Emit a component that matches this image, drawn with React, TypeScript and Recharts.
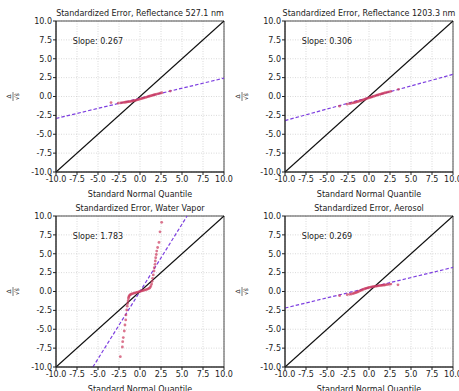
import React from 'react'
import { ScatterChart, Scatter, XAxis, YAxis, CartesianGrid, ReferenceLine, ReferenceArea, ReferenceDot } from 'recharts'

const ticks = [-10, -7.5, -5, -2.5, 0, 2.5, 5, 7.5, 10]

const refl527X = [-3.45, -2.6, -2.3, -2.1, -1.9, -1.75, -1.6, -1.45, -1.3, -1.15, -1.0, -0.85, -0.7, -0.55, -0.4, -0.25, -0.1, 0.05, 0.2, 0.35, 0.5, 0.65, 0.8, 0.95, 1.1, 1.25, 1.4, 1.55, 1.7, 1.85, 2.0, 2.2, 2.4, 2.6, 3.6]
const refl527Y = [-0.8, -0.88, -0.85, -0.82, -0.78, -0.76, -0.73, -0.7, -0.68, -0.65, -0.62, -0.59, -0.55, -0.51, -0.47, -0.42, -0.37, -0.32, -0.27, -0.22, -0.17, -0.12, -0.07, -0.02, 0.03, 0.08, 0.13, 0.18, 0.23, 0.28, 0.32, 0.38, 0.44, 0.5, 0.72]

const refl1203X = [-3.5, -2.6, -2.3, -2.1, -1.9, -1.75, -1.6, -1.45, -1.3, -1.15, -1.0, -0.85, -0.7, -0.55, -0.4, -0.25, -0.1, 0.05, 0.2, 0.35, 0.5, 0.65, 0.8, 0.95, 1.1, 1.25, 1.4, 1.55, 1.7, 1.85, 2.0, 2.2, 2.4, 2.6, 3.5]
const refl1203Y = [-1.28, -1.02, -0.95, -0.9, -0.85, -0.8, -0.76, -0.71, -0.66, -0.61, -0.56, -0.51, -0.45, -0.39, -0.33, -0.27, -0.21, -0.16, -0.1, -0.05, 0.01, 0.06, 0.12, 0.17, 0.22, 0.27, 0.32, 0.37, 0.42, 0.47, 0.52, 0.57, 0.62, 0.68, 0.95]

const vaporX = [-2.34, -2.1, -2.06, -1.99, -1.87, -1.79, -1.7, -1.67, -1.58, -1.52, -1.47, -1.42, -1.38, -1.34, -1.3, -1.22, -1.12, -1.0, -0.85, -0.7, -0.55, -0.4, -0.25, -0.1, 0.05, 0.2, 0.35, 0.5, 0.65, 0.8, 0.95, 1.1, 1.2, 1.3, 1.38, 1.44, 1.5, 1.58, 1.67, 1.7, 1.79, 1.82, 1.87, 1.94, 1.99, 2.1, 2.26, 2.38, 2.58]
const vaporY = [-8.63, -7.35, -6.64, -6.1, -5.23, -4.44, -3.77, -3.1, -2.45, -1.95, -1.6, -1.25, -0.95, -0.75, -0.6, -0.48, -0.4, -0.33, -0.27, -0.22, -0.17, -0.12, -0.07, -0.02, 0.03, 0.08, 0.12, 0.17, 0.22, 0.28, 0.34, 0.42, 0.55, 0.75, 1.0, 1.35, 1.75, 2.19, 2.72, 3.16, 3.6, 4.04, 4.47, 4.9, 5.36, 5.83, 6.5, 7.9, 9.16]

const aerosolX = [-3.5, -2.6, -2.3, -2.1, -1.9, -1.75, -1.6, -1.45, -1.3, -1.15, -1.0, -0.85, -0.7, -0.55, -0.4, -0.25, -0.1, 0.05, 0.2, 0.35, 0.5, 0.65, 0.8, 0.95, 1.1, 1.25, 1.4, 1.55, 1.7, 1.85, 2.0, 2.2, 2.4, 2.6, 3.45]
const aerosolY = [-0.55, -0.42, -0.38, -0.33, -0.28, -0.22, -0.16, -0.1, -0.03, 0.05, 0.12, 0.2, 0.27, 0.34, 0.4, 0.45, 0.5, 0.54, 0.58, 0.61, 0.64, 0.67, 0.7, 0.72, 0.75, 0.77, 0.8, 0.82, 0.84, 0.86, 0.89, 0.92, 0.95, 0.98, 0.89]

const titles = ['Standardized Error, Reflectance 527.1 nm', 'Standardized Error, Reflectance 1203.3 nm', 'Standardized Error, Water Vapor', 'Standardized Error, Aerosol']
const slopes = [0.267, 0.306, 1.783, 0.269]
const intercepts = [-0.24, -0.13, 0, 0.5]

const font = 'DejaVu Sans, sans-serif'

function YLabel(props: any) {
  const vb = props.viewBox
  const cy = vb.y + vb.height / 2
  return (
    <g transform={`translate(${vb.x + 1}, ${cy}) rotate(-90)`} fontFamily={font} fill="#222">
      <text x={0} y={-6} fontSize={6} textAnchor="middle">Δ</text>
      <line x1={-4.5} x2={4.5} y1={-4} y2={-4} stroke="#222" strokeWidth={0.6} />
      <text x={0} y={2} fontSize={6} textAnchor="middle">√ŝ</text>
    </g>
  )
}

function Dot(props: any) {
  return <circle cx={props.cx} cy={props.cy} r={1.4} fill="#cc3a5e" fillOpacity={0.7} />
}

function Panel({ i, xs, ys, left, top }: { i: number; xs: number[]; ys: number[]; left: number; top: number }) {
  const pts = xs.map((x, k) => ({ x, y: ys[k] }))
  const m = slopes[i]
  const b = intercepts[i]
  let x0 = -10
  let x1 = 10
  if (m * x0 + b < -10) x0 = (-10 - b) / m
  if (m * x1 + b > 10) x1 = (10 - b) / m
  return (
    <div style={{ position: 'absolute', left, top, width: 230, height: 195 }}>
      <div style={{ position: 'absolute', left: 26, width: 228, top: 9, textAlign: 'center', fontFamily: font, fontSize: 8, lineHeight: '10px', color: '#222', whiteSpace: 'nowrap' }}>
        {titles[i]}
      </div>
      <ScatterChart width={230} height={195} margin={{ top: 21, right: 6, bottom: 0, left: 16 }}>
        <CartesianGrid stroke="#c8c8c8" strokeDasharray="1 1.5" strokeWidth={0.7} />
        <XAxis type="number" dataKey="x" domain={[-10, 10]} ticks={ticks} allowDataOverflow interval={0}
          tickFormatter={(v: number) => v.toFixed(1)} tick={{ fontSize: 8, fontFamily: font, fill: '#222' }}
          tickSize={3} tickMargin={1} stroke="#222" height={23}
          label={{ value: 'Standard Normal Quantile', position: 'insideBottom', offset: -2, fontSize: 8, fontFamily: font, fill: '#222' }} />
        <YAxis type="number" dataKey="y" domain={[-10, 10]} ticks={ticks} allowDataOverflow interval={0}
          tickFormatter={(v: number) => v.toFixed(1)} tick={{ fontSize: 8, fontFamily: font, fill: '#222' }}
          tickSize={3} tickMargin={1} stroke="#222" width={40}
          label={<YLabel />} />
        <ReferenceArea x1={-10} x2={10} y1={-10} y2={10} fill="none" stroke="#222" strokeWidth={0.8} fillOpacity={0} />
        <Scatter data={pts} shape={<Dot />} isAnimationActive={false} />
        <ReferenceLine segment={[{ x: -10, y: -10 }, { x: 10, y: 10 }]} stroke="#111" strokeWidth={1.1} />
        <ReferenceLine segment={[{ x: x0, y: m * x0 + b }, { x: x1, y: m * x1 + b }]} stroke="#7d3fe0" strokeWidth={1.2} strokeDasharray="3.5 2" />
        <ReferenceDot x={-8} y={7} r={0} fill="none" stroke="none"
          label={(p: any) => (
            <text x={p.viewBox.x} y={p.viewBox.y} fontSize={8} fontFamily={font} fill="#222">{`Slope: ${slopes[i].toFixed(3)}`}</text>
          )} />
      </ScatterChart>
    </div>
  )
}

export default function App() {
  return (
    <div style={{ position: 'absolute', left: 0, top: 0, width: 459, height: 391, background: '#fff', overflow: 'hidden' }}>
      <style>{'.recharts-wrapper svg.recharts-surface{overflow:visible}'}</style>
      <Panel i={0} xs={refl527X} ys={refl527Y} left={0} top={0} />
      <Panel i={1} xs={refl1203X} ys={refl1203Y} left={229} top={0} />
      <Panel i={2} xs={vaporX} ys={vaporY} left={0} top={195} />
      <Panel i={3} xs={aerosolX} ys={aerosolY} left={229} top={195} />
    </div>
  )
}
